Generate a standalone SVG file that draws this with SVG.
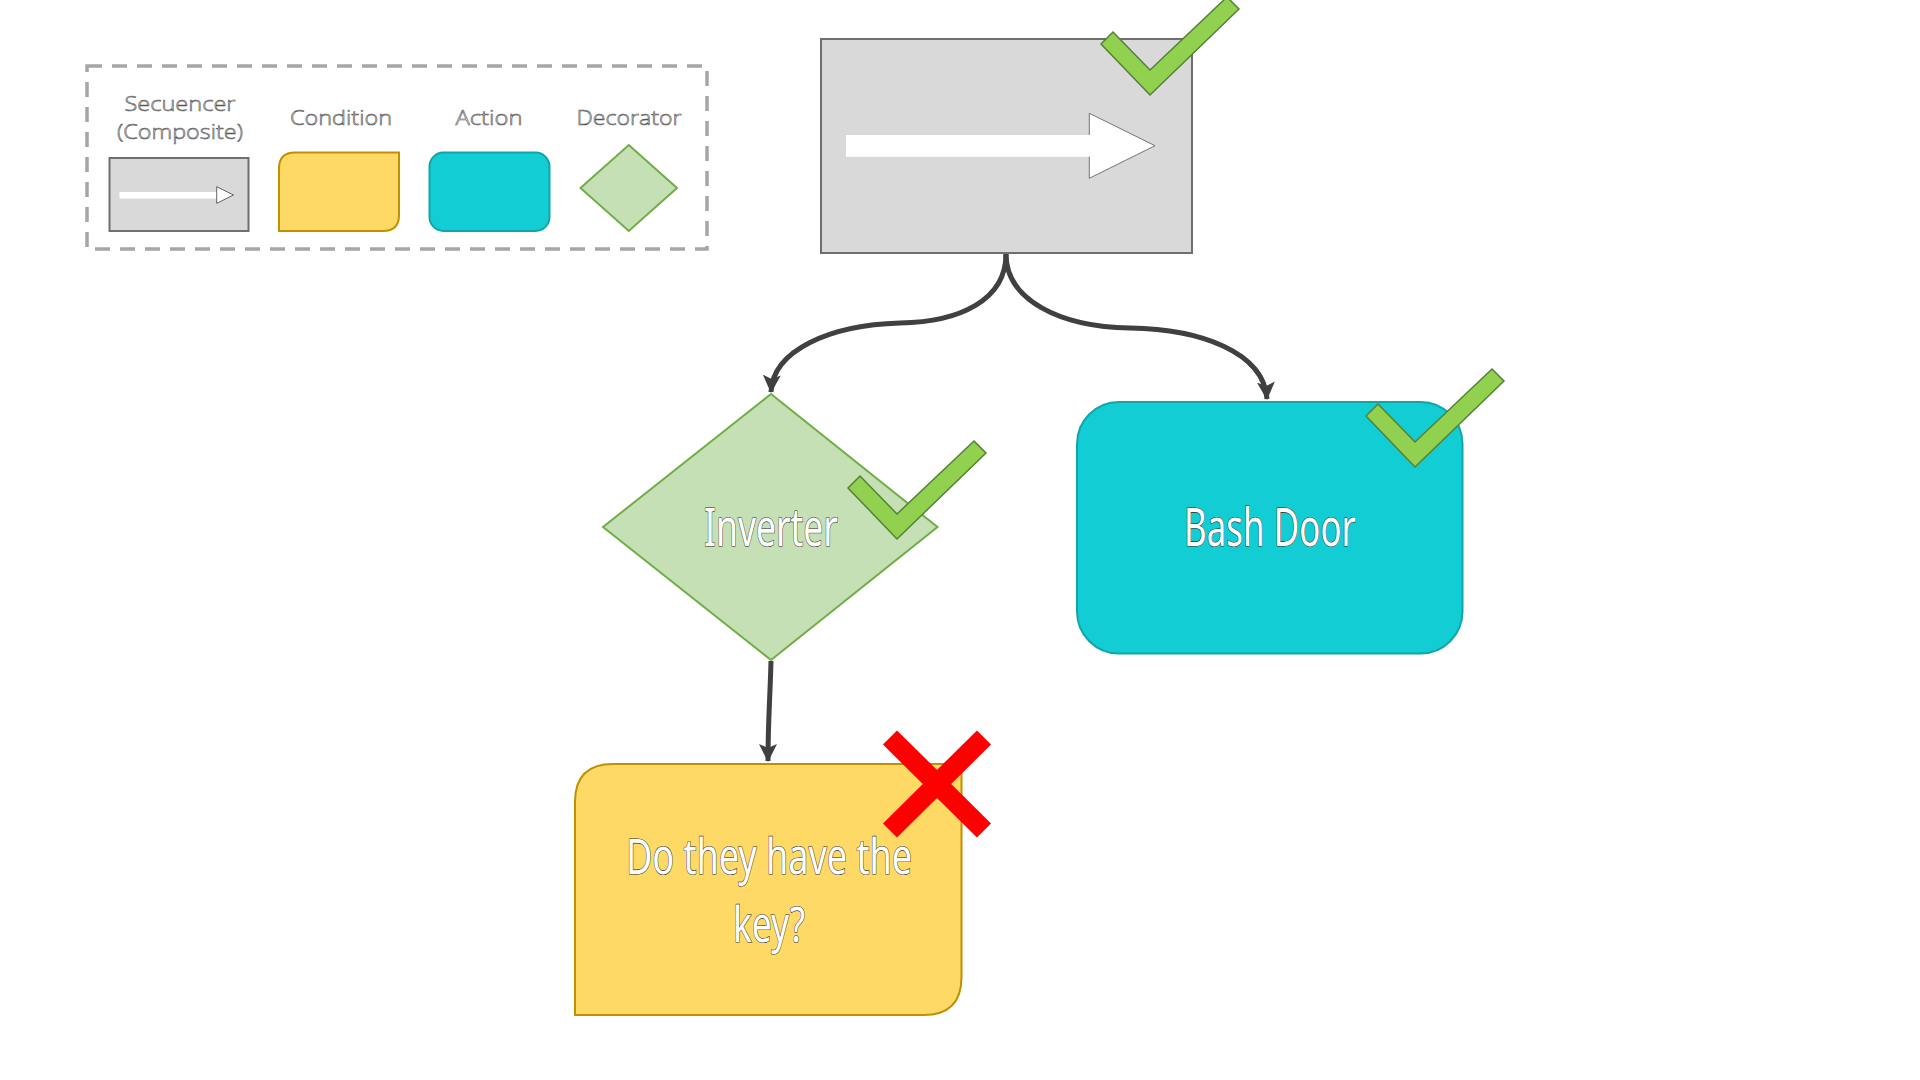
<svg xmlns="http://www.w3.org/2000/svg" xmlns:xlink="http://www.w3.org/1999/xlink" width="1920" height="1080" viewBox="0 0 1920 1080">
<style>
.legend-text{font-family:"Open Sans","Noto Sans",sans-serif;font-weight:300;font-size:21px;fill:#ffffff;stroke:#555555;stroke-width:0.6px;text-anchor:middle}
.node-text{font-family:"Noto Sans","Open Sans",sans-serif;font-weight:400;fill:#ffffff;stroke:#303030;stroke-width:1.2px;paint-order:stroke;text-anchor:middle}
.seq{fill:#d9d9d9;stroke:#6f6f6f;stroke-width:2}
.cond{fill:#ffd966;stroke:#bf9000;stroke-width:2}
.act{fill:#12cdd4;stroke:#10a5aa;stroke-width:2}
.dec{fill:#c5e0b4;stroke:#70ad47;stroke-width:2}
.conn{fill:none;stroke:#404040;stroke-width:5}
.check{fill:#92d050;stroke:#548235;stroke-width:1.5;stroke-linejoin:miter}
</style>
<defs>
<marker id="arrow" markerUnits="userSpaceOnUse" markerWidth="20" markerHeight="20" refX="17" refY="9" orient="auto" viewBox="0 0 20 18">
<path d="M0,0 L18,9 L0,18 L4,9 Z" fill="#404040"/>
</marker>
<polygon id="check" class="check" points="-37,-38 0,0 77,-73 89,-61 0,25 -49,-26"/>
</defs>
<rect width="1920" height="1080" fill="#ffffff"/>

<g id="legend">
<rect x="87" y="66" width="620" height="183" fill="none" stroke="#a6a6a6" stroke-width="3.5" stroke-dasharray="15 10"/>
<text class="legend-text" x="180" y="111" textLength="111" lengthAdjust="spacingAndGlyphs">Secuencer</text>
<text class="legend-text" x="180" y="139" textLength="126" lengthAdjust="spacingAndGlyphs">(Composite)</text>
<text class="legend-text" x="341" y="125" textLength="102" lengthAdjust="spacingAndGlyphs">Condition</text>
<text class="legend-text" x="489" y="125" textLength="67" lengthAdjust="spacingAndGlyphs">Action</text>
<text class="legend-text" x="629" y="125" textLength="105" lengthAdjust="spacingAndGlyphs">Decorator</text>
<rect class="seq" x="109.5" y="158" width="139" height="73"/>
<rect x="119.5" y="192" width="97.5" height="6.5" fill="#ffffff"/>
<path d="M216.7,186.7 L233.5,195 L216.7,203.3 Z" fill="#ffffff" stroke="#404040" stroke-width="0.8"/>
<path class="cond" d="M295,152.5 L399,152.5 L399,215 Q399,231 383,231 L279,231 L279,168.5 Q279,152.5 295,152.5 Z"/>
<rect class="act" x="429.5" y="152.5" width="120" height="78.5" rx="14" ry="14"/>
<polygon class="dec" points="628.8,145 677,188 628.8,231 580.5,188"/>
</g>

<g id="connectors">
<path class="conn" d="M1006,254 C1006,300 960,322 900,323 C830,325 773,350 771,392" marker-end="url(#arrow)"/>
<path class="conn" d="M1006,254 C1006,300 1060,327 1130,328 C1200,329 1264,352 1267,399" marker-end="url(#arrow)"/>
<path class="conn" d="M771,661 C770,700 768,720 768,761" marker-end="url(#arrow)"/>
</g>

<g id="node-sequencer">
<rect class="seq" x="821" y="39" width="371" height="214"/>
<polygon points="846,135 1089.3,135 1089.3,113.3 1155,145.7 1089.3,178.3 1089.3,156.7 846,156.7" fill="#ffffff"/>
<path d="M1089.3,135 L1089.3,113.3 L1155,145.7 L1089.3,178.3 L1089.3,156.7" fill="none" stroke="#555555" stroke-width="0.8"/>
<use xlink:href="#check" href="#check" transform="translate(1150,70)"/>
</g>

<g id="node-inverter">
<polygon class="dec" points="771,394 937.5,527 771,660 603,527"/>
<text class="node-text" x="771" y="546" font-size="53" textLength="134" lengthAdjust="spacingAndGlyphs">Inverter</text>
<use xlink:href="#check" href="#check" transform="translate(897,514)"/>
</g>

<g id="node-bashdoor">
<rect class="act" x="1077" y="402" width="385.5" height="251.5" rx="42" ry="42"/>
<text class="node-text" x="1270" y="546" font-size="52" textLength="172" lengthAdjust="spacingAndGlyphs">Bash Door</text>
<use xlink:href="#check" href="#check" transform="translate(1415,442)"/>
</g>

<g id="node-condition">
<path class="cond" d="M613,764 L961.5,764 L961.5,977 Q961.5,1015 923.5,1015 L575,1015 L575,802 Q575,764 613,764 Z"/>
<text class="node-text" x="769" y="874" font-size="50" textLength="286" lengthAdjust="spacingAndGlyphs">Do they have the</text>
<text class="node-text" x="769" y="942" font-size="50" textLength="72" lengthAdjust="spacingAndGlyphs">key?</text>
<g stroke="#ff0000" stroke-width="20" stroke-linecap="butt">
<line x1="890" y1="737.5" x2="984" y2="830.5"/>
<line x1="984" y1="737.5" x2="890" y2="830.5"/>
</g>
</g>
</svg>
